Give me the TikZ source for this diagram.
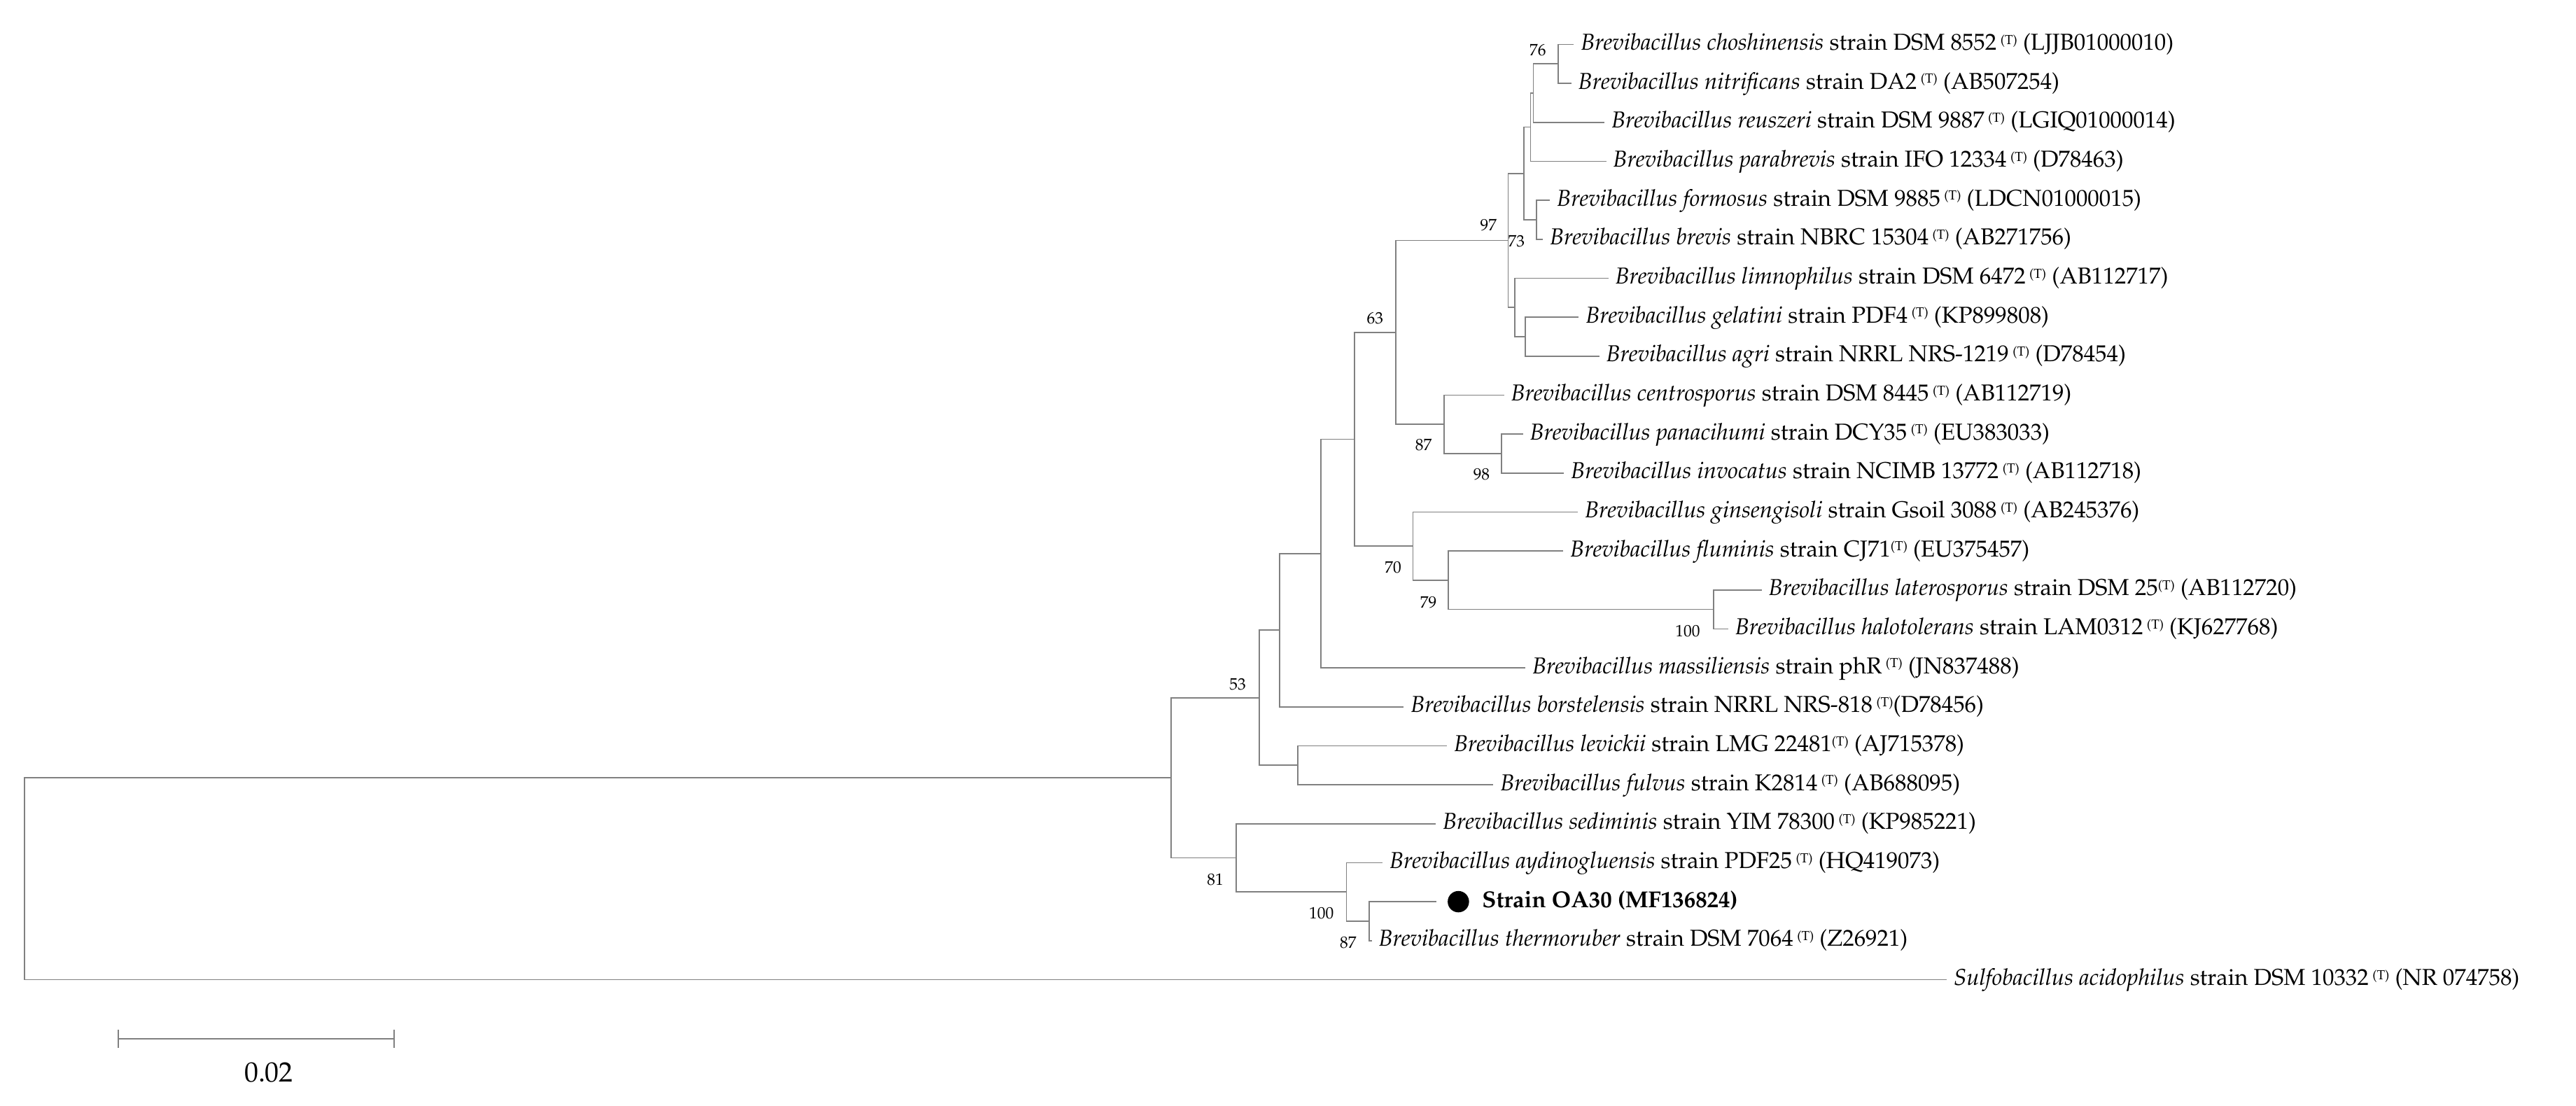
\documentclass[tikz,border=0pt]{standalone}
\usepackage[T1]{fontenc}
\usepackage{mathpazo}
\newcommand{\tsup}{\,\raisebox{0.55ex}{\fontsize{8}{9}\selectfont(T)}}
\newcommand{\tsupn}{\raisebox{0.55ex}{\fontsize{8}{9}\selectfont(T)}}
\begin{document}
\begin{tikzpicture}[x=1pt,y=-1pt,
  br/.style={draw=black!50,line width=0.7pt},
  leaf/.style={anchor=west,inner xsep=4pt,inner ysep=0pt,text height=8pt,text depth=1pt,font=\fontsize{14}{17}\selectfont},
  bs/.style={inner sep=0pt,font=\fontsize{10}{12}\selectfont}]
\useasboundingbox (0,0) rectangle (1568,673.2);
% leaves
\node[leaf] (l0) at (958,27) {\textit{Brevibacillus choshinensis} strain DSM 8552\tsup{} (LJJB01000010)};
\node[leaf] (l1) at (956.5,50.72) {\textit{Brevibacillus nitrificans} strain DA2\tsup{} (AB507254)};
\node[leaf] (l2) at (976.7,74.44) {\textit{Brevibacillus reuszeri} strain DSM 9887\tsup{} (LGIQ01000014)};
\node[leaf] (l3) at (977.7,98.16) {\textit{Brevibacillus parabrevis} strain IFO 12334\tsup{} (D78463)};
\node[leaf] (l4) at (943.5,121.88) {\textit{Brevibacillus formosus} strain DSM 9885\tsup{} (LDCN01000015)};
\node[leaf] (l5) at (939.2,145.6) {\textit{Brevibacillus brevis} strain NBRC 15304\tsup{} (AB271756)};
\node[leaf] (l6) at (979,169.32) {\textit{Brevibacillus limnophilus} strain DSM 6472\tsup{} (AB112717)};
\node[leaf] (l7) at (961,193.04) {\textit{Brevibacillus gelatini} strain PDF4\tsup{} (KP899808)};
\node[leaf] (l8) at (973.5,216.76) {\textit{Brevibacillus agri} strain NRRL NRS-1219\tsup{} (D78454)};
\node[leaf] (l9) at (915.5,240.48) {\textit{Brevibacillus centrosporus} strain DSM 8445\tsup{} (AB112719)};
\node[leaf] (l10) at (927,264.2) {\textit{Brevibacillus panacihumi} strain DCY35\tsup{} (EU383033)};
\node[leaf] (l11) at (952,287.92) {\textit{Brevibacillus invocatus} strain NCIMB 13772\tsup{} (AB112718)};
\node[leaf] (l12) at (960.5,311.64) {\textit{Brevibacillus ginsengisoli} strain Gsoil 3088\tsup{} (AB245376)};
\node[leaf] (l13) at (951.6,335.36) {\textit{Brevibacillus fluminis} strain CJ71\tsupn{} (EU375457)};
\node[leaf] (l14) at (1072.3,359.08) {\textit{Brevibacillus laterosporus} strain DSM 25\tsupn{} (AB112720)};
\node[leaf] (l15) at (1052,382.8) {\textit{Brevibacillus halotolerans} strain LAM0312\tsup{} (KJ627768)};
\node[leaf] (l16) at (928.5,406.52) {\textit{Brevibacillus massiliensis} strain phR\tsup{} (JN837488)};
\node[leaf] (l17) at (854.5,430.24) {\textit{Brevibacillus borstelensis} strain NRRL NRS-818\tsup{}(D78456)};
\node[leaf] (l18) at (880.8,453.96) {\textit{Brevibacillus levickii} strain LMG 22481\tsupn{} (AJ715378)};
\node[leaf] (l19) at (909,477.68) {\textit{Brevibacillus fulvus} strain K2814\tsup{} (AB688095)};
\node[leaf] (l20) at (874,501.4) {\textit{Brevibacillus sediminis} strain YIM 78300\tsup{} (KP985221)};
\node[leaf] (l21) at (841.6,525.12) {\textit{Brevibacillus aydinogluensis} strain PDF25\tsup{} (HQ419073)};
\node[circle,fill=black,minimum size=13pt,inner sep=0pt,outer sep=7pt] (l22) at (887.7,548.84) {};
\node[leaf,anchor=west,inner xsep=0pt] (l22t) at (902,548.84) {\textbf{Strain OA30 (MF136824)}};
\node[leaf] (l23) at (835,572.56) {\textit{Brevibacillus thermoruber} strain DSM 7064\tsup{} (Z26921)};
\node[leaf] (l24) at (1185,596.28) {\textit{Sulfobacillus acidophilus} strain DSM 10332\tsup{} (NR 074758)};
% internal nodes
\coordinate (n76) at (948.5,38.86);
\coordinate (nA) at (933.4,56.65);
\coordinate (nB) at (931.7,77.41);
\coordinate (n73) at (935.3,133.74);
\coordinate (nC) at (927.5,105.57);
\coordinate (nGA) at (928.5,204.9);
\coordinate (nD) at (922,187.11);
\coordinate (n97) at (918,146.34);
\coordinate (n98) at (914,276.06);
\coordinate (n87a) at (879,258.27);
\coordinate (n63) at (849.6,202.3);
\coordinate (n100a) at (1043,370.94);
\coordinate (n79) at (881.5,353.15);
\coordinate (n70) at (860,332.4);
\coordinate (nE) at (824.5,267.35);
\coordinate (nF) at (804,336.9);
\coordinate (nG) at (779,383.6);
\coordinate (nLF) at (789.9,465.82);
\coordinate (n53) at (766.6,424.7);
\coordinate (n87b) at (833.3,560.7);
\coordinate (n100b) at (819.6,542.9);
\coordinate (n81) at (752.5,522.15);
\coordinate (nH) at (712.9,473.4);
\coordinate (root) at (15,535);
% branches
\draw[br] (n76) |- (l0.west) (n76) |- (l1.west);
\draw[br] (nA) |- (n76) (nA) |- (l2.west);
\draw[br] (nB) |- (nA) (nB) |- (l3.west);
\draw[br] (n73) |- (l4.west) (n73) |- (l5.west);
\draw[br] (nC) |- (nB) (nC) |- (n73);
\draw[br] (nGA) |- (l7.west) (nGA) |- (l8.west);
\draw[br] (nD) |- (l6.west) (nD) |- (nGA);
\draw[br] (n97) |- (nC) (n97) |- (nD);
\draw[br] (n98) |- (l10.west) (n98) |- (l11.west);
\draw[br] (n87a) |- (l9.west) (n87a) |- (n98);
\draw[br] (n63) |- (n97) (n63) |- (n87a);
\draw[br] (n100a) |- (l14.west) (n100a) |- (l15.west);
\draw[br] (n79) |- (l13.west) (n79) |- (n100a);
\draw[br] (n70) |- (l12.west) (n70) |- (n79);
\draw[br] (nE) |- (n63) (nE) |- (n70);
\draw[br] (nF) |- (nE) (nF) |- (l16.west);
\draw[br] (nG) |- (nF) (nG) |- (l17.west);
\draw[br] (nLF) |- (l18.west) (nLF) |- (l19.west);
\draw[br] (n53) |- (nG) (n53) |- (nLF);
\draw[br] (n87b) |- (l22.west) (n87b) |- (l23.west);
\draw[br] (n100b) |- (l21.west) (n100b) |- (n87b);
\draw[br] (n81) |- (l20.west) (n81) |- (n100b);
\draw[br] (nH) |- (n53) (nH) |- (n81);
\draw[br] (root) |- (nH) (root) |- (l24.west);
% bootstrap values
\node[bs] (b76) at (936,30.4) {76};
\node[bs] (b97) at (906,137) {97};
\node[bs] (b73) at (923,147) {73};
\node[bs] (b63) at (837,193.6) {63};
\node[bs] (b87a) at (866.5,271) {87};
\node[bs] (b98) at (901.8,288.6) {98};
\node[bs] (b70) at (848,345.4) {70};
\node[bs] (b79) at (869.5,366.7) {79};
\node[bs] (b100a) at (1027.3,384) {100};
\node[bs] (b53) at (753.4,416.6) {53};
\node[bs] (b81) at (739.7,535.5) {81};
\node[bs] (b100b) at (804.3,556) {100};
\node[bs] (b87b) at (820.6,573.9) {87};
% scale bar
\coordinate (sa) at (72,632.3);
\coordinate (sb) at (240,632.3);
\draw[br] (sa) -- (sb);
\draw[br] ([yshift=-5.5pt]sa) -- ([yshift=5.5pt]sa);
\draw[br] ([yshift=-5.5pt]sb) -- ([yshift=5.5pt]sb);
\node[font=\fontsize{17}{20}\selectfont,inner sep=0pt] (scl) at (163.6,653) {0.02};
\end{tikzpicture}
\end{document}
